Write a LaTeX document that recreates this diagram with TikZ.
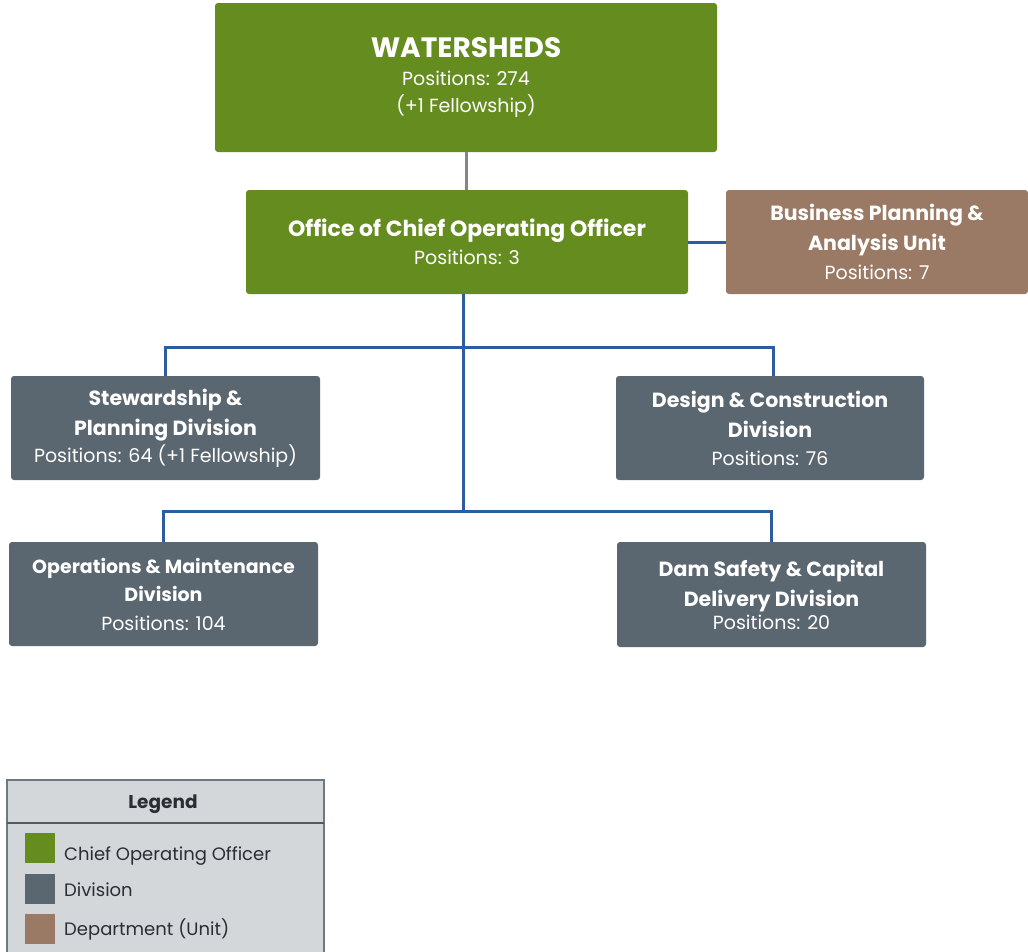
\documentclass[tikz,border=0pt]{standalone}
\usepackage{fontspec}
\setmainfont{Poppins}
\definecolor{cgreen}{HTML}{658C1F}
\definecolor{cgray}{HTML}{5A6670}
\definecolor{cbrown}{HTML}{9A7A64}
\definecolor{cblue}{HTML}{2B5D9F}
\definecolor{cline}{HTML}{858585}
\definecolor{clegbg}{HTML}{D4D7DA}
\definecolor{clegbd}{HTML}{6E7880}
\definecolor{clegtx}{HTML}{2A2E33}
\newcommand{\bl}[2][20.5]{{\bfseries\fontsize{#1}{29}\selectfont #2}}
\begin{document}
\begin{tikzpicture}[x=1pt,y=-1pt,
  box/.style={rectangle, rounded corners=3pt, text=white, align=center, inner sep=0pt,
    font=\fontsize{19}{29}\selectfont},
  greenbox/.style={box, fill=cgreen},
  graybox/.style={box, fill=cgray},
  brownbox/.style={box, fill=cbrown},
  blueline/.style={draw=cblue, line width=3pt},
  grayline/.style={draw=cline, line width=3pt},
  legsq/.style={rectangle, inner sep=0pt, minimum width=30pt, minimum height=30pt},
  legtext/.style={anchor=base west, inner sep=0pt, text=clegtx, font=\fontsize{18}{20}\selectfont}
]
\useasboundingbox (0,0) rectangle (1028,951);
\fill[white] (0,0) rectangle (1028,951);

% nodes
\node[greenbox, minimum width=502pt, minimum height=149pt, font=\fontsize{19}{27}\selectfont] (ws) at (466,77.5)
  {{\bfseries\fontsize{28}{27}\selectfont WATERSHEDS}\\[1pt]Positions: 274\\(+1 Fellowship)};
\node[greenbox, minimum width=442pt, minimum height=104pt] (coo) at (467,242)
  {\bl[22]{Office of Chief Operating Officer}\\[-1pt]Positions: 3};
\node[brownbox, minimum width=302pt, minimum height=104pt] (bpa) at (877,242)
  {\bl{Business Planning \&}\\[1pt]\bl{Analysis Unit}\\Positions: 7};
\node[graybox, minimum width=309pt, minimum height=104pt] (stew) at (165.5,428)
  {\bl{Stewardship \&}\\[1pt]\bl{Planning Division}\\[-2pt]Positions: 64 (+1 Fellowship)};
\node[graybox, minimum width=308pt, minimum height=104pt] (des) at (770,428)
  {\bl{Design \& Construction}\\[1pt]\bl{Division}\\[-1pt]Positions: 76};
\node[graybox, minimum width=309pt, minimum height=104pt] (ops) at (163.5,594)
  {\bl[19]{Operations \& Maintenance}\\[-1pt]\bl[19]{Division}\\Positions: 104};
\node[graybox, minimum width=309pt, minimum height=105pt] (dam) at (771.5,594.5)
  {\bl{Dam Safety \& Capital}\\[1pt]\bl{Delivery Division}\\[-6pt]Positions: 20};

% junction coordinates
\coordinate (j1) at (463,347);
\coordinate (j2) at (463,511);

% connectors
\draw[grayline] (ws.south) -- (coo.north -| ws.south);
\draw[blueline] (coo.east) -- (bpa.west);
\draw[blueline] (coo.south -| j1) -- (j2);
\draw[blueline] (stew.north) |- (j1) -| ([xshift=3.5pt]des.north);
\draw[blueline] (ops.north) |- (j2) -| (dam.north);

% legend
\draw[fill=clegbg, draw=clegbd, line width=1.5pt] (7,780) rectangle (324,962);
\draw[draw=clegtx!80, line width=1.5pt] (7,823) -- (324,823);
\node[inner sep=0pt, anchor=base, text=clegtx, font=\bfseries\fontsize{18.5}{20}\selectfont] (legtitle) at (163,808) {Legend};
\node[legsq, fill=cgreen] (lg1) at (40,848) {};
\node[legsq, fill=cgray] (lg2) at (40,889) {};
\node[legsq, fill=cbrown] (lg3) at (40,929) {};
\node[legtext] (lt1) at (64,860) {Chief Operating Officer};
\node[legtext] (lt2) at (64,896) {Division};
\node[legtext] (lt3) at (64,935) {Department (Unit)};
\end{tikzpicture}
\end{document}
